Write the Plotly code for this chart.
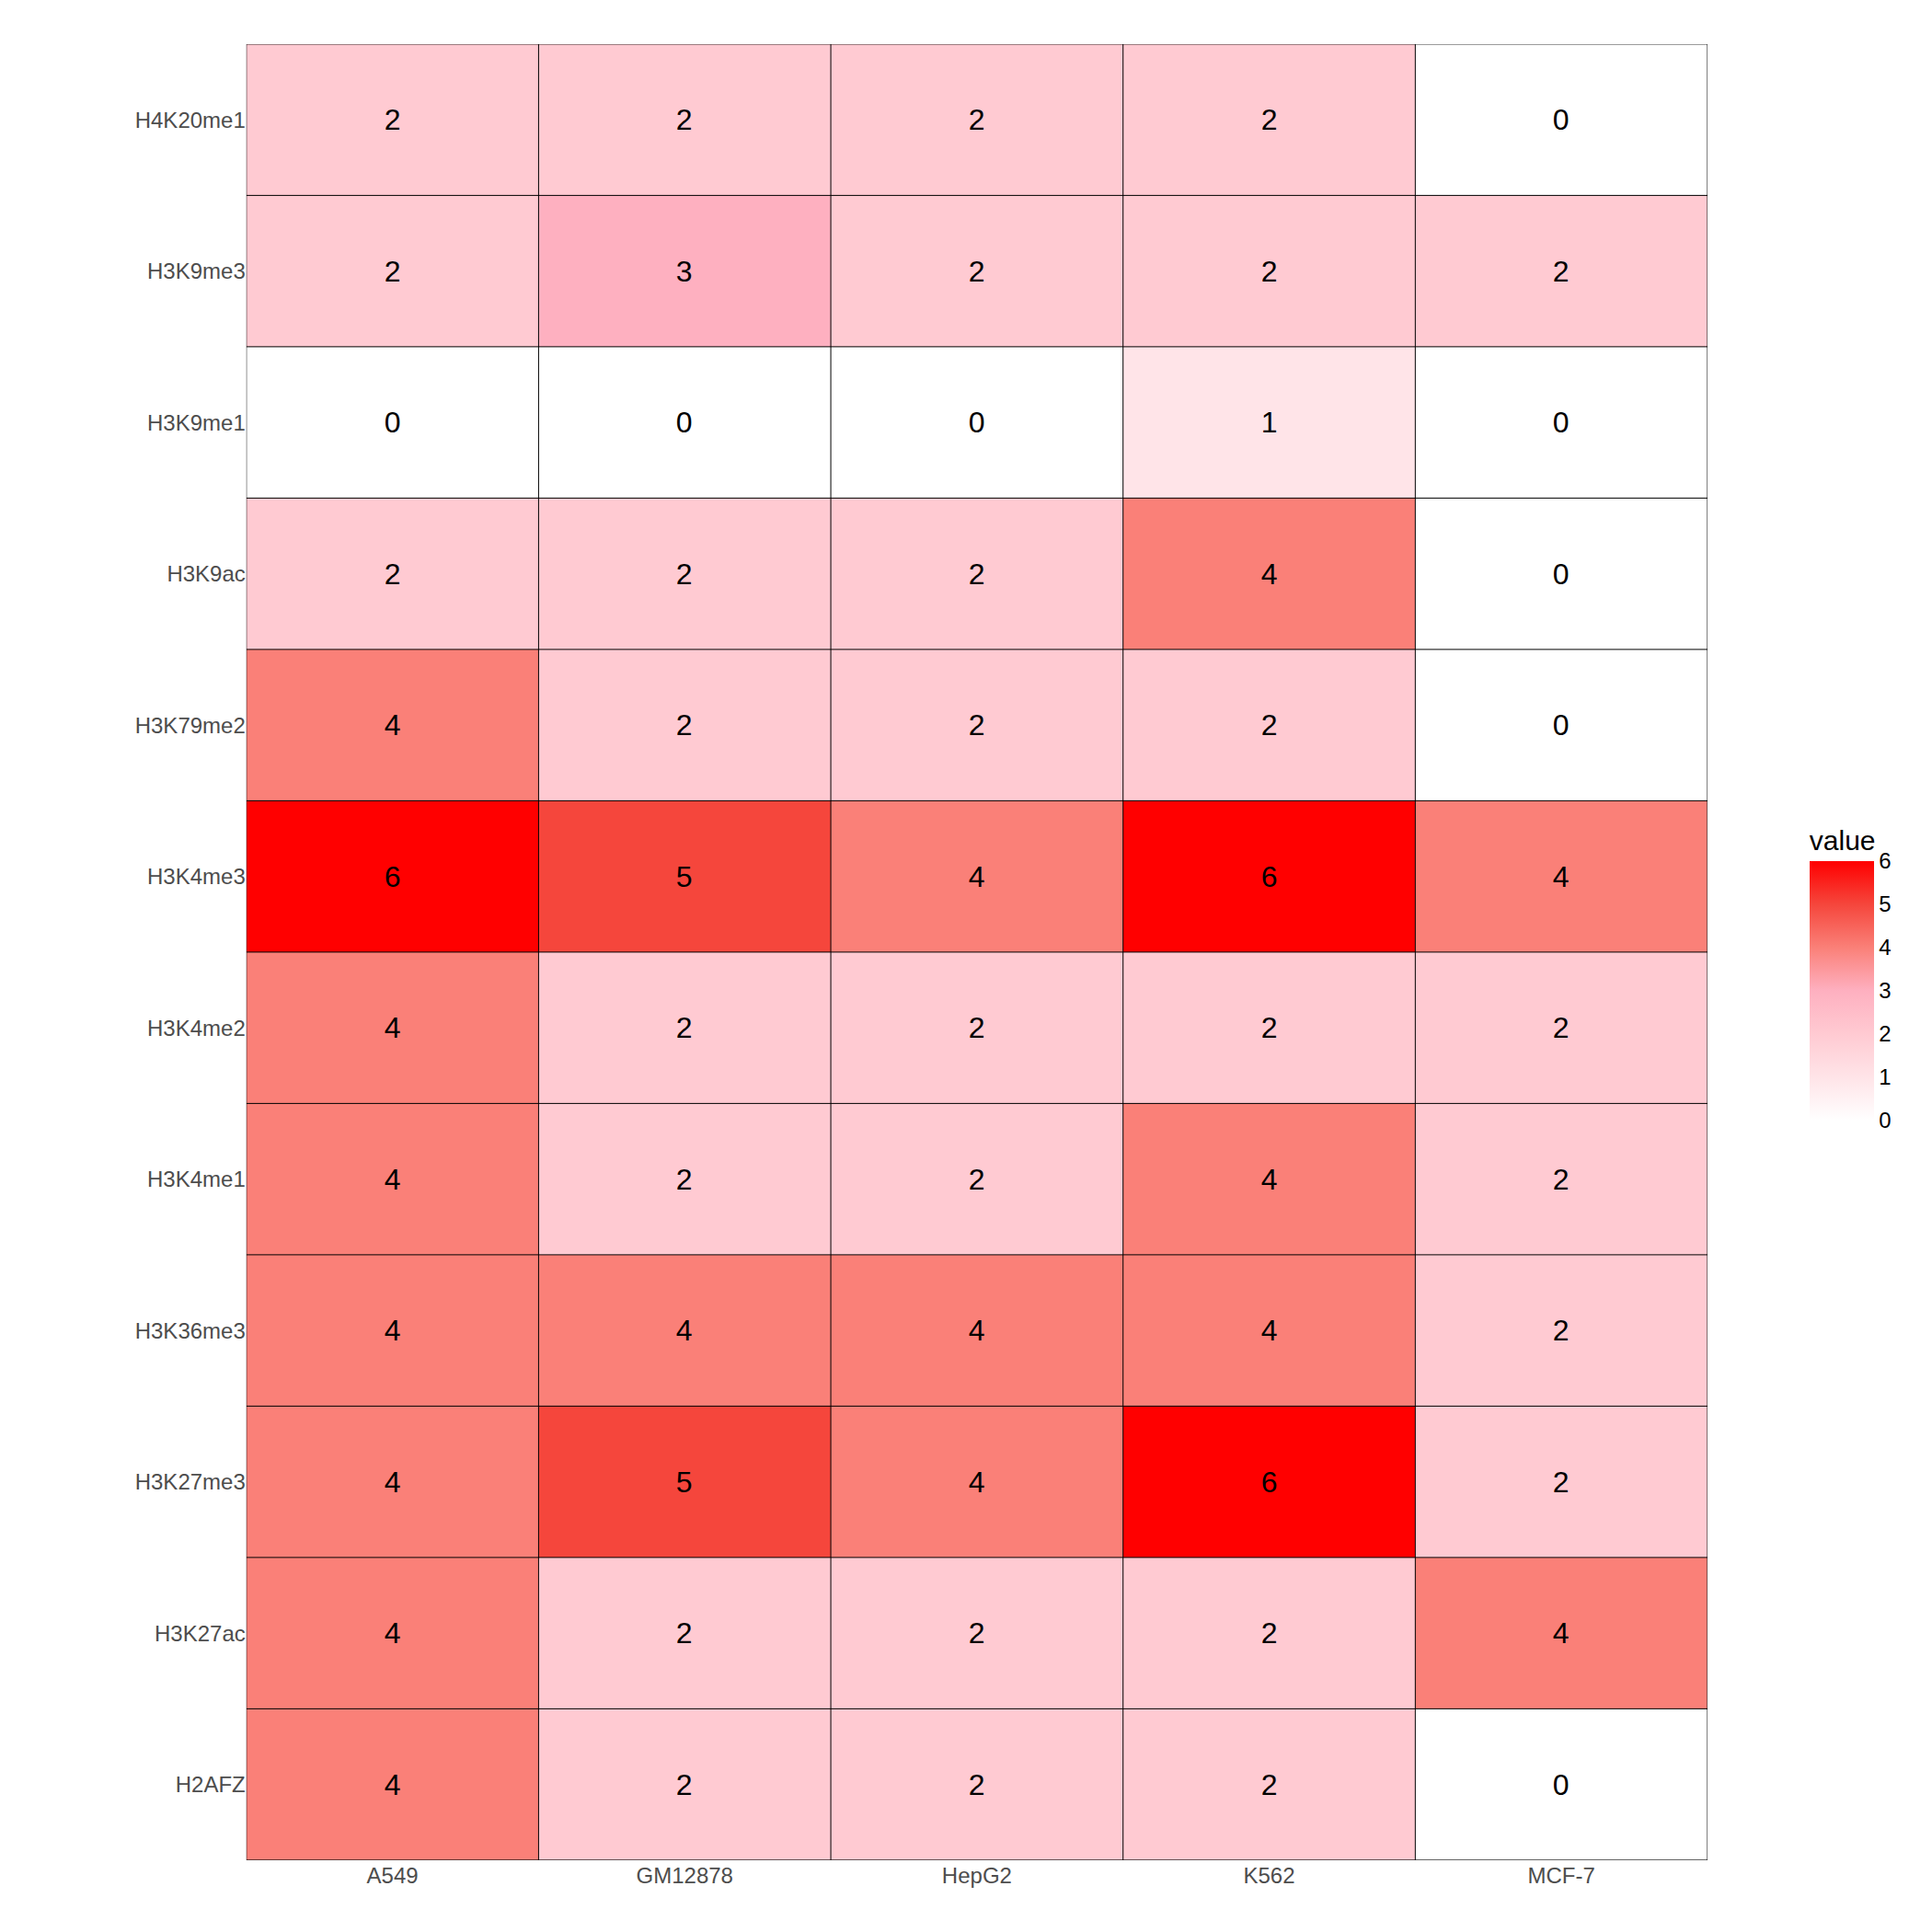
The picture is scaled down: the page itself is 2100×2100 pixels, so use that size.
import plotly.graph_objects as go

cells = ["A549", "GM12878", "HepG2", "K562", "MCF-7"]
marks = ["H2AFZ", "H3K27ac", "H3K27me3", "H3K36me3", "H3K4me1", "H3K4me2",
         "H3K4me3", "H3K79me2", "H3K9ac", "H3K9me1", "H3K9me3", "H4K20me1"]
values = [
    [4, 2, 2, 2, 0],
    [4, 2, 2, 2, 4],
    [4, 5, 4, 6, 2],
    [4, 4, 4, 4, 2],
    [4, 2, 2, 4, 2],
    [4, 2, 2, 2, 2],
    [6, 5, 4, 6, 4],
    [4, 2, 2, 2, 0],
    [2, 2, 2, 4, 0],
    [0, 0, 0, 1, 0],
    [2, 3, 2, 2, 2],
    [2, 2, 2, 2, 0],
]

cs = [[0, "rgb(255,255,255)"], [1/6, "rgb(255,228,232)"], [2/6, "rgb(255,202,210)"],
      [3/6, "rgb(254,176,192)"], [4/6, "rgb(250,128,120)"], [5/6, "rgb(245,70,60)"],
      [1, "rgb(255,0,0)"]]

fig = go.Figure(go.Heatmap(
    z=values, x=list(range(len(cells))), y=list(range(len(marks))),
    zmin=0, zmax=6, colorscale=cs,
    texttemplate="%{z}", textfont=dict(size=32, color="black", family="Liberation Sans"),
    colorbar=dict(x=0.928, xanchor="left", y=0.5, yanchor="middle", len=0.162,
                  lenmode="fraction", thickness=70, outlinewidth=0,
                  tickvals=list(range(7)), ticks="", tickfont=dict(size=24, color="black"),
                  title=dict(text="value", font=dict(size=30, color="black"), side="top")),
))

shapes = []
for i in range(len(cells) + 1):
    shapes.append(dict(type="line", xref="x", yref="y", x0=i - 0.5, x1=i - 0.5,
                       y0=-0.5, y1=len(marks) - 0.5, line=dict(color="black", width=1)))
for j in range(len(marks) + 1):
    shapes.append(dict(type="line", xref="x", yref="y", y0=j - 0.5, y1=j - 0.5,
                       x0=-0.5, x1=len(cells) - 0.5, line=dict(color="black", width=1)))

fig.update_layout(
    width=2100, height=2100, margin=dict(l=0, r=0, t=0, b=0),
    paper_bgcolor="white", plot_bgcolor="white",
    font=dict(family="Liberation Sans"), shapes=shapes,
    xaxis=dict(domain=[0.1237, 0.880], tickvals=list(range(len(cells))), ticktext=cells,
               showgrid=False, zeroline=False, tickfont=dict(size=24, color="rgb(77,77,77)"),
               range=[-0.5, len(cells) - 0.5], ticklen=0, ticks=""),
    yaxis=dict(domain=[0.041, 0.981], tickvals=list(range(len(marks))), ticktext=marks,
               showgrid=False, zeroline=False, tickfont=dict(size=24, color="rgb(77,77,77)"),
               range=[-0.5, len(marks) - 0.5], ticks="", ticklen=0),
)
fig.write_html("out.html")
